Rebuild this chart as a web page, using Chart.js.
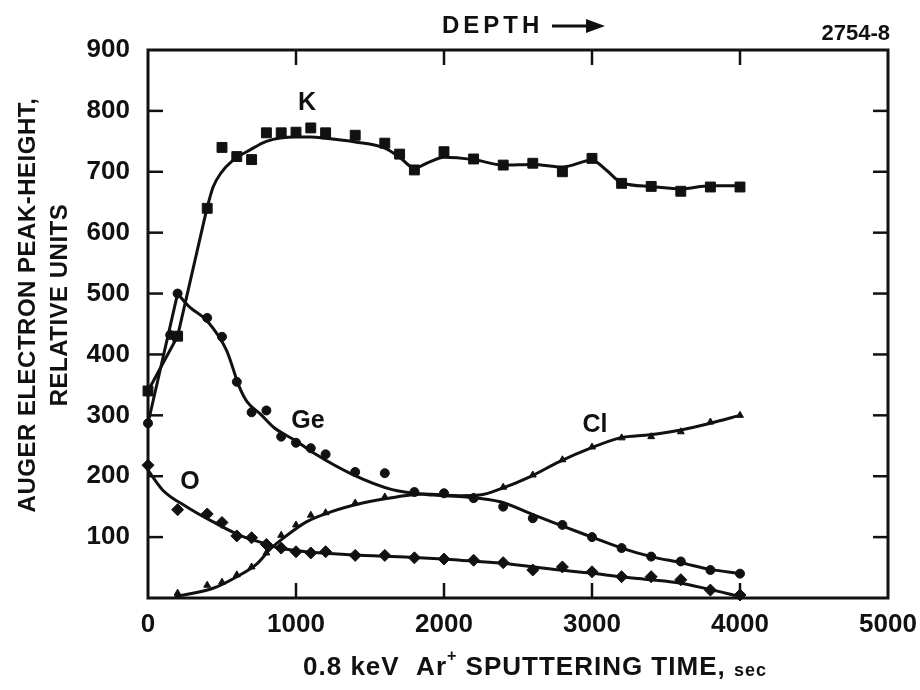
<!DOCTYPE html>
<html lang="en">
<head>
    <meta charset="UTF-8">
    <title>Auger depth profile</title>
    <script src="https://cdn.jsdelivr.net/npm/chart.js"></script>
    <style>
        body {
            margin: 0;
            background: #fff;
        }

        #wrap {
            width: 920px;
            height: 690px;
        }
    </style>
</head>
<body>
    <div id="wrap"><canvas id="profile" width="920" height="690"></canvas></div>

    <script>
        // sputtering time (sec) / peak height (relative units)
        const xTicks = [0, 1000, 2000, 3000, 4000, 5000];
        const yTicks = [100, 200, 300, 400, 500, 600, 700, 800, 900];

        // K - squares
        const kTime = [0, 200, 400, 500, 600, 700, 800, 900, 1000, 1100, 1200, 1400, 1600, 1700, 1800, 2000, 2200, 2400, 2600, 2800, 3000, 3200, 3400, 3600, 3800, 4000];
        const kVals = [340, 430, 640, 740, 725, 720, 764, 764, 765, 772, 764, 760, 747, 729, 703, 733, 721, 711, 714, 700, 722, 681, 676, 668, 675, 675];
        // straight lead-in, then the smooth fit
        const kLeadTime = [0, 200, 400];
        const kLeadVals = [340, 430, 642];
        const kCurveTime = [400, 440, 490, 575, 690, 800, 1000, 1100, 1200, 1400, 1600, 1700, 1800, 1900, 2000, 2200, 2400, 2600, 2800, 3000, 3100, 3200, 3400, 3600, 3800, 4000];
        const kCurveVals = [642, 675, 697, 719, 736, 750, 757, 757, 755, 749, 739, 724, 706, 716, 724, 720, 711, 712, 708, 719, 702, 682, 676, 672, 677, 677];

        // Ge - dots
        const geTime = [0, 150, 200, 400, 500, 600, 700, 800, 900, 1000, 1100, 1200, 1400, 1600, 1800, 2000, 2200, 2400, 2600, 2800, 3000, 3200, 3400, 3600, 3800, 4000];
        const geVals = [287, 432, 500, 460, 429, 355, 305, 308, 265, 255, 246, 236, 207, 205, 174, 172, 164, 150, 131, 120, 100, 82, 68, 60, 46, 40];
        const geLeadTime = [0, 200];
        const geLeadVals = [287, 500];
        const geCurveTime = [200, 280, 400, 530, 620, 670, 760, 850, 1000, 1120, 1380, 1650, 1930, 2150, 2380, 2600, 2780, 3000, 3200, 3400, 3600, 3800, 4000];
        const geCurveVals = [500, 478, 455, 407, 345, 322, 302, 280, 258, 238, 203, 178, 169, 166, 158, 137, 120, 100, 82, 68, 58, 47, 40];

        // Cl - triangles
        const clTime = [200, 400, 500, 600, 700, 800, 900, 1000, 1100, 1200, 1400, 1600, 1800, 2000, 2200, 2400, 2600, 2800, 3000, 3200, 3400, 3600, 3800, 4000];
        const clVals = [8, 21, 26, 38, 51, 74, 103, 120, 136, 140, 156, 166, 172, 172, 166, 182, 202, 227, 248, 263, 265, 273, 289, 300];
        const clCurveTime = [180, 440, 600, 740, 820, 940, 1070, 1230, 1450, 1680, 1860, 2110, 2240, 2390, 2580, 2780, 2990, 3190, 3390, 3600, 3800, 4000];
        const clCurveVals = [2, 16, 35, 57, 79, 103, 125, 141, 156, 166, 171, 168, 169, 180, 199, 224, 246, 263, 268, 276, 287, 300];

        // O - diamonds
        const oTime = [0, 200, 400, 500, 600, 700, 800, 900, 1000, 1100, 1200, 1400, 1600, 1800, 2000, 2200, 2400, 2600, 2800, 3000, 3200, 3400, 3600, 3800, 4000];
        const oVals = [218, 145, 138, 124, 102, 99, 88, 82, 76, 74, 76, 70, 70, 66, 64, 62, 58, 46, 51, 43, 35, 35, 30, 13, 5];
        const oCurveTime = [0, 100, 260, 440, 620, 780, 890, 1070, 1370, 1770, 1990, 2110, 2390, 2780, 2990, 3190, 3390, 3580, 3780, 3990];
        const oCurveVals = [210, 177, 150, 125, 103, 90, 82, 76, 71, 67, 64, 62, 57, 46, 41, 35, 30, 25, 15, 3];

        // curve labels, placed in data units
        const curveLabels = [
            { text: 'K', t: 1074, v: 813 },
            { text: 'Ge', t: 1081, v: 290 },
            { text: 'O', t: 284, v: 191 },
            { text: 'Cl', t: 3020, v: 284 }
        ];

        const INK = '#111';
        const FONT = "'Liberation Sans', Arial, sans-serif";

        const pairs = (xs, ys) => xs.map((x, i) => ({ x: x, y: ys[i] }));

        function curve(xs, ys, smooth) {
            return {
                data: pairs(xs, ys), showLine: true, pointRadius: 0, borderColor: INK, borderWidth: 3,
                cubicInterpolationMode: smooth ? 'monotone' : 'default', tension: 0, order: 2
            };
        }
        function marks(xs, ys, style, r) {
            return {
                data: pairs(xs, ys), showLine: false, pointStyle: style, pointRadius: r,
                backgroundColor: INK, borderColor: INK, borderWidth: 1, clip: false, order: 1
            };
        }

        const decor = {
            id: 'decor',
            afterDraw(chart) {
                const { ctx, chartArea: a, scales: { x, y } } = chart;
                const line = (x1, y1, x2, y2) => { ctx.beginPath(); ctx.moveTo(x1, y1); ctx.lineTo(x2, y2); ctx.stroke(); };
                ctx.save();
                ctx.strokeStyle = INK;
                ctx.fillStyle = INK;
                ctx.lineWidth = 3;
                ctx.strokeRect(a.left, a.top, a.right - a.left, a.bottom - a.top);

                // inward ticks on all four sides
                ctx.lineWidth = 2.5;
                x.ticks.forEach(t => {
                    if (t.value <= x.min || t.value >= x.max) return;
                    const px = x.getPixelForValue(t.value);
                    line(px, a.bottom, px, a.bottom - 15);
                    line(px, a.top, px, a.top + 15);
                });
                y.ticks.forEach(t => {
                    if (t.value <= y.min || t.value >= y.max) return;
                    const py = y.getPixelForValue(t.value);
                    line(a.left, py, a.left + 15, py);
                    line(a.right, py, a.right - 15, py);
                });

                // element labels
                ctx.font = 'bold 25px ' + FONT;
                ctx.textAlign = 'center';
                ctx.textBaseline = 'middle';
                curveLabels.forEach(l => ctx.fillText(l.text, x.getPixelForValue(l.t), y.getPixelForValue(l.v)));

                // y title, two rotated lines
                ctx.save();
                ctx.translate(28, 305);
                ctx.rotate(-Math.PI / 2);
                ctx.font = 'bold 24px ' + FONT;
                ctx.letterSpacing = '0.5px';
                ctx.fillText('AUGER ELECTRON PEAK-HEIGHT,', 0, 0);
                ctx.fillText('RELATIVE UNITS', 0, 32);
                ctx.restore();

                // x title with superscript
                const parts = [
                    { s: '0.8 keV  Ar', f: 'bold 26px ', dy: 0 },
                    { s: '+', f: 'bold 16px ', dy: -11 },
                    { s: ' SPUTTERING TIME, ', f: 'bold 26px ', dy: 0 },
                    { s: 'sec', f: 'bold 18px ', dy: 3 }
                ];
                ctx.letterSpacing = '1px';
                let w = 0;
                parts.forEach(p => { ctx.font = p.f + FONT; w += ctx.measureText(p.s).width; });
                let cx = 535 - w / 2;
                ctx.textAlign = 'left';
                parts.forEach(p => {
                    ctx.font = p.f + FONT;
                    ctx.fillText(p.s, cx, 668 + p.dy);
                    cx += ctx.measureText(p.s).width;
                });

                // DEPTH arrow
                ctx.font = 'bold 24px ' + FONT;
                ctx.letterSpacing = '4px';
                ctx.fillText('DEPTH', 442, 26);
                ctx.letterSpacing = '0px';
                ctx.lineWidth = 3;
                line(552, 26, 590, 26);
                ctx.beginPath();
                ctx.moveTo(605, 26); ctx.lineTo(586, 19); ctx.lineTo(586, 33); ctx.closePath();
                ctx.fill();

                // figure number
                ctx.font = 'bold 22px ' + FONT;
                ctx.textAlign = 'right';
                ctx.fillText('2754-8', 890, 34);
                ctx.restore();
            }
        };

        new Chart(document.getElementById('profile'), {
            type: 'scatter',
            data: {
                datasets: [
                    curve(kLeadTime, kLeadVals, false),
                    curve(kCurveTime, kCurveVals, true),
                    curve(geLeadTime, geLeadVals, false),
                    curve(geCurveTime, geCurveVals, true),
                    curve(clCurveTime, clCurveVals, true),
                    curve(oCurveTime, oCurveVals, true),
                    marks(kTime, kVals, 'rect', 7),
                    marks(geTime, geVals, 'circle', 4.5),
                    marks(clTime, clVals, 'triangle', 4),
                    marks(oTime, oVals, 'rectRot', 6)
                ]
            },
            options: {
                responsive: false,
                animation: false,
                layout: { padding: { top: 50, right: 32, left: 0, bottom: 0 } },
                plugins: { legend: { display: false }, tooltip: { enabled: false } },
                scales: {
                    x: {
                        type: 'linear', min: 0, max: 5000,
                        afterBuildTicks: s => { s.ticks = xTicks.map(v => ({ value: v })); },
                        afterFit: s => { s.height = 92; },
                        grid: { display: false },
                        border: { display: false },
                        ticks: {
                            color: INK, padding: 3, maxRotation: 0, callback: v => String(v),
                            font: { family: FONT, size: 26, weight: 'bold' }
                        }
                    },
                    y: {
                        type: 'linear', min: 0, max: 900,
                        afterBuildTicks: s => { s.ticks = yTicks.map(v => ({ value: v })); },
                        afterFit: s => { s.width = 148; },
                        grid: { display: false },
                        border: { display: false },
                        ticks: {
                            color: INK, padding: 10, callback: v => String(v),
                            font: { family: FONT, size: 26, weight: 'bold' }
                        }
                    }
                }
            },
            plugins: [decor]
        });
    </script>
</body>
</html>
